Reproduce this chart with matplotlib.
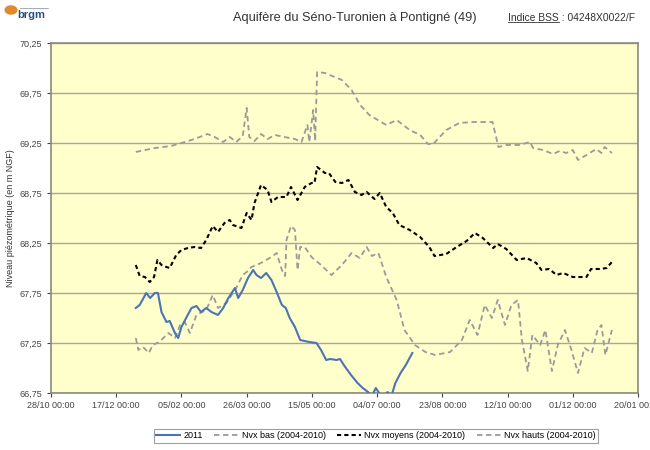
import numpy as np
import matplotlib
matplotlib.use("Agg")
import matplotlib.pyplot as plt
import matplotlib.dates as mdates
from matplotlib.patches import Circle
from matplotlib.lines import Line2D
import datetime as dt

# ---- data (day offset within the reference year -> level in m NGF) ----
# the chart uses a leap-year template (26/03 tick), so the year axis is 2012
start = np.datetime64("2012-01-01")

y2011_days = [0, 3, 8, 11, 14.6, 17, 19.7, 23.5, 26, 30, 32.5, 35, 39, 42.7, 46.5, 50, 54, 58, 63, 67,
              71, 73.5, 76, 78.5, 82, 86, 90, 92.5, 96, 100, 104, 108, 112, 115, 118, 122, 126, 133,
              138.5, 142, 146, 149, 154, 156.6, 160, 165, 170, 174, 178, 181, 184, 187, 190, 193, 196,
              199, 203, 207, 212]
y2011_vals = [67.60, 67.63, 67.75, 67.70, 67.75, 67.75, 67.56, 67.46, 67.47, 67.35, 67.30, 67.41, 67.51,
              67.60, 67.62, 67.56, 67.60, 67.56, 67.53, 67.60, 67.70, 67.75, 67.80, 67.70, 67.78, 67.90,
              67.98, 67.93, 67.90, 67.95, 67.88, 67.76, 67.63, 67.60, 67.50, 67.41, 67.28, 67.26, 67.25,
              67.18, 67.08, 67.09, 67.08, 67.09, 67.02, 66.93, 66.85, 66.80, 66.76, 66.72, 66.80, 66.74,
              66.70, 66.76, 66.72, 66.85, 66.95, 67.03, 67.15]

bas_days = [0, 2, 5.6, 10, 13, 18, 25, 30, 34, 37.6, 41.4, 46.5, 54, 59, 63, 69.5, 77, 82, 85, 88.7, 96,
            104, 108, 112, 114.5, 115.5, 119, 122, 124, 126, 129.5, 134.7, 142, 150, 158, 165.4, 171.7,
            177, 181, 186, 192, 200, 206, 214, 222, 229.5, 241, 250, 256, 262, 267.5, 273, 277.5, 283,
            288, 293, 296, 300.5, 304, 310, 314, 319, 323.5, 329, 334, 339, 344, 349.6, 354, 357, 360, 365]
bas_vals = [67.30, 67.18, 67.21, 67.15, 67.23, 67.26, 67.35, 67.30, 67.43, 67.46, 67.35, 67.53, 67.58,
            67.73, 67.60, 67.65, 67.80, 67.93, 67.96, 68.01, 68.05, 68.11, 68.15, 67.98, 67.92, 68.28,
            68.42, 68.38, 67.98, 68.21, 68.21, 68.11, 68.03, 67.93, 68.03, 68.15, 68.10, 68.21, 68.12,
            68.15, 67.91, 67.68, 67.38, 67.23, 67.16, 67.13, 67.16, 67.28, 67.48, 67.33, 67.63, 67.50,
            67.68, 67.43, 67.63, 67.68, 67.28, 66.97, 67.33, 67.23, 67.38, 66.97, 67.23, 67.38, 67.18,
            66.95, 67.20, 67.15, 67.38, 67.43, 67.13, 67.38]

moy_days = [0, 3, 7, 10.7, 14, 16.6, 19.7, 23.5, 26, 31, 35, 40, 45, 50, 54, 59, 63, 68, 72, 74.5, 81,
            85, 88.7, 91, 96, 101, 104, 109, 115.5, 119, 124, 129.5, 134.7, 137, 139, 145, 148, 153, 158,
            163, 168, 173, 177, 183, 187, 192, 197, 202, 210, 218, 225, 229, 238, 246, 253.6, 260, 266,
            274, 277.5, 284, 292, 299.6, 307, 311, 317, 322.5, 327.6, 335, 345.5, 349, 356, 361, 365]
moy_vals = [68.03, 67.92, 67.91, 67.86, 67.91, 68.08, 68.03, 68.01, 68.00, 68.13, 68.18, 68.20, 68.21,
            68.20, 68.28, 68.42, 68.36, 68.45, 68.48, 68.43, 68.40, 68.55, 68.48, 68.65, 68.83, 68.78,
            68.66, 68.71, 68.71, 68.81, 68.68, 68.81, 68.85, 68.85, 69.01, 68.95, 68.95, 68.86, 68.85,
            68.88, 68.76, 68.73, 68.76, 68.69, 68.75, 68.61, 68.55, 68.43, 68.38, 68.31, 68.21, 68.12,
            68.14, 68.21, 68.27, 68.35, 68.30, 68.20, 68.24, 68.19, 68.08, 68.10, 68.05, 67.98, 67.99,
            67.93, 67.95, 67.91, 67.91, 67.99, 67.99, 68.00, 68.06]

haut_days = [0, 14.6, 27, 37.6, 45, 55, 60.5, 67, 72, 77, 82, 85, 87, 91, 96, 101, 106.6, 114, 122, 127,
             131.6, 133, 136, 137.5, 139, 145, 158, 165.4, 172, 179, 192, 200, 210, 218, 224, 228, 238,
             248, 258.6, 271, 273.5, 278, 284, 294, 302, 304.6, 312, 320, 325, 330, 335, 339, 345.5, 353,
             357, 359.5, 365]
haut_vals = [69.16, 69.20, 69.22, 69.26, 69.29, 69.34, 69.31, 69.26, 69.31, 69.26, 69.32, 69.60, 69.31,
             69.27, 69.34, 69.29, 69.33, 69.31, 69.29, 69.26, 69.43, 69.26, 69.58, 69.27, 69.96, 69.95,
             69.88, 69.78, 69.63, 69.53, 69.43, 69.48, 69.38, 69.33, 69.24, 69.24, 69.38, 69.45, 69.46,
             69.46, 69.46, 69.21, 69.23, 69.23, 69.26, 69.20, 69.18, 69.14, 69.17, 69.15, 69.18, 69.08,
             69.13, 69.19, 69.15, 69.21, 69.15]

yticks = [66.75, 67.25, 67.75, 68.25, 68.75, 69.25, 69.75, 70.25]
legend_labels = ["2011", "Nvx bas (2004-2010)", "Nvx moyens (2004-2010)", "Nvx hauts (2004-2010)"]
title = "Aquifère du Séno-Turonien à Pontigné (49)"
bss_label = "Indice BSS"
bss_code = " : 04248X0022/F"
ylabel = "Niveau piézométrique (en m NGF)"


def to_dates(days):
    return [start + np.timedelta64(int(round(d * 24)), "h") for d in days]


plt.rcParams["font.family"] = ["Liberation Sans", "DejaVu Sans"]
fig = plt.figure(figsize=(6.5, 4.5), dpi=100)
ax = fig.add_axes([51 / 650, 1 - 393 / 450, 587 / 650, 350 / 450])
ax.set_facecolor("#FFFFCC")

blue = "#4a74b4"
gray = "#9a9a9a"

l1, = ax.plot(to_dates(y2011_days), y2011_vals, color=blue, lw=1.5, zorder=5)
l2, = ax.plot(to_dates(bas_days), bas_vals, color=gray, lw=1.3, ls=(0, (3, 2)), zorder=4)
l3, = ax.plot(to_dates(moy_days), moy_vals, color="black", lw=1.5, ls=(0, (2, 1.5)), zorder=4)
l4, = ax.plot(to_dates(haut_days), haut_vals, color=gray, lw=1.3, ls=(0, (3, 2)), zorder=4)

ax.set_ylim(66.75, 70.25)
ax.set_yticks(yticks)
ax.set_yticklabels([f"{v:.2f}".replace(".", ",") for v in yticks])
ax.yaxis.grid(True, color="#a8a898", lw=1.0)
ax.set_axisbelow(True)

x0 = dt.datetime(2011, 10, 28)
xt = [x0 + dt.timedelta(days=50 * k) for k in range(10)]
ax.set_xlim(xt[0], xt[-1])
ax.set_xticks(xt)
ax.xaxis.set_major_formatter(mdates.DateFormatter("%d/%m %H:%M"))

ax.tick_params(axis="both", labelsize=6.5, colors="#444444", length=3, width=0.8)
ax.tick_params(axis="x", pad=3)
for s in ax.spines.values():
    s.set_color("#8a8a7a")
    s.set_linewidth(1.2)

ax.set_ylabel(ylabel, fontsize=6.5, color="#333333", labelpad=3)

leg = fig.legend([l1, l2, l3, l4], legend_labels, loc="center", bbox_to_anchor=(376 / 650, 1 - 436 / 450),
                 ncol=4, fontsize=6.5, frameon=True, fancybox=False, edgecolor="#888888",
                 handlelength=2.6, columnspacing=1.3, handletextpad=0.4, borderpad=0.3)
leg.get_frame().set_linewidth(0.8)

fig.text(355 / 650, 1 - 18 / 450, title, ha="center", va="center", fontsize=9.2, color="#333333")
t_bss = fig.text(508 / 650, 1 - 18 / 450, bss_label, ha="left", va="center", fontsize=7.4, color="#333333")
fig.canvas.draw()
bb = t_bss.get_window_extent()
W, H = fig.bbox.width, fig.bbox.height
fig.text(bb.x1 / W, 1 - 18 / 450, bss_code, ha="left", va="center", fontsize=7.4, color="#333333")
fig.add_artist(Line2D([bb.x0 / W, bb.x1 / W], [(bb.y0 + 1) / H, (bb.y0 + 1) / H],
                      transform=fig.transFigure, color="#333333", lw=0.6))

# logo
fig.add_artist(Circle((11 / 650, 1 - 10 / 450), 0.009, transform=fig.transFigure,
                      color="#e08a2e", zorder=10))
fig.text(17 / 650, 1 - 15 / 450, "brgm", fontsize=8, fontweight="bold", color="#2d4f80",
         ha="left", va="center")
fig.add_artist(Line2D([20 / 650, 48 / 650], [1 - 8 / 450, 1 - 8 / 450], transform=fig.transFigure,
                      color="#7a8aa8", lw=0.5))

fig.savefig("out.png", dpi=100, facecolor="white")
